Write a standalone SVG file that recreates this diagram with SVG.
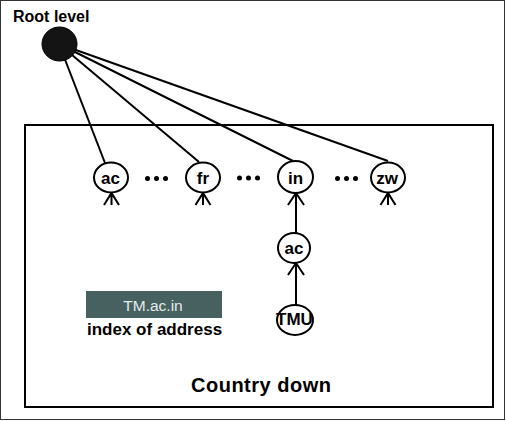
<svg xmlns="http://www.w3.org/2000/svg" width="506" height="421" viewBox="0 0 506 421">
<defs>
<style>
.frame{fill:#fff;stroke:#333;stroke-width:1}
.box{fill:none;stroke:#000;stroke-width:2}
.edge{stroke:#000;stroke-width:2;fill:none}
.node{fill:#fff;stroke:#000;stroke-width:2}
.lbl{font-family:"Liberation Sans",Arial,sans-serif;font-weight:bold;font-size:17px;fill:#000;text-anchor:middle}
.dot{fill:#000}
.title{font-family:"Liberation Sans",Arial,sans-serif;font-weight:bold;fill:#000}
</style>
<g id="tick">
<path d="M0,-1 V12 M-7.5,12 L0,0 L7.5,12" fill="none" stroke="#000" stroke-width="2"/>
</g>
</defs>
<rect class="frame" x="0.5" y="0.5" width="504" height="419"/>
<text class="title" x="13" y="22" font-size="16">Root level</text>
<rect class="box" x="25" y="125" width="468" height="282"/>
<g id="connectors">
<line class="edge" x1="59" y1="44" x2="105" y2="163"/>
<line class="edge" x1="59" y1="44" x2="199" y2="162"/>
<line class="edge" x1="59" y1="44" x2="293" y2="161"/>
<line class="edge" x1="59" y1="44" x2="388" y2="161"/>
<line class="edge" x1="296" y1="193" x2="296" y2="233"/>
<line class="edge" x1="296" y1="263" x2="296" y2="306"/>
<path class="edge" d="M288,205 L296,193 L304,205"/>
<path class="edge" d="M288,275 L296,263 L304,275"/>
<use href="#tick" x="111.5" y="193"/>
<use href="#tick" x="203" y="193"/>
<use href="#tick" x="388" y="193"/>
</g>
<g id="root">
<ellipse cx="59.5" cy="44" rx="17.5" ry="17" fill="#141414" stroke="#000" stroke-width="1"/>
</g>
<g id="node-ac">
<ellipse class="node" cx="111" cy="177.5" rx="17" ry="15"/>
<text class="lbl" x="110.5" y="184">ac</text>
</g>
<g id="node-fr">
<ellipse class="node" cx="203" cy="177.5" rx="17" ry="15"/>
<text class="lbl" x="203" y="184">fr</text>
</g>
<g id="node-in">
<ellipse class="node" cx="295.5" cy="177" rx="17.5" ry="16"/>
<text class="lbl" x="295.5" y="184">in</text>
</g>
<g id="node-zw">
<ellipse class="node" cx="388" cy="177.5" rx="17" ry="15"/>
<text class="lbl" x="387" y="184">zw</text>
</g>
<g id="node-ac2">
<ellipse class="node" cx="294" cy="248" rx="16" ry="15"/>
<text class="lbl" x="294" y="254">ac</text>
</g>
<g id="node-tmu">
<ellipse class="node" cx="295" cy="320" rx="18" ry="15"/>
<text class="lbl" x="294.5" y="324.5" font-size="12.5">TMU</text>
</g>
<g id="dots">
<circle class="dot" cx="147.5" cy="178.5" r="2.5"/>
<circle class="dot" cx="156.5" cy="178.5" r="2.5"/>
<circle class="dot" cx="165.5" cy="178.5" r="2.5"/>
<circle class="dot" cx="239.5" cy="178" r="2.5"/>
<circle class="dot" cx="248.5" cy="178" r="2.5"/>
<circle class="dot" cx="257.5" cy="178" r="2.5"/>
<circle class="dot" cx="337.5" cy="178.5" r="2.5"/>
<circle class="dot" cx="346.5" cy="178.5" r="2.5"/>
<circle class="dot" cx="355.5" cy="178.5" r="2.5"/>
</g>
<g id="legend">
<rect x="86" y="291" width="136" height="27" fill="#466160"/>
<text x="153" y="311" font-family="'Liberation Sans',Arial,sans-serif" font-size="15.5" fill="#e4ecec" text-anchor="middle">TM.ac.in</text>
<text class="title" x="87" y="335" font-size="17">index of address</text>
</g>
<text class="title" x="191" y="392" font-size="20" letter-spacing="0.5">Country down</text>
</svg>
